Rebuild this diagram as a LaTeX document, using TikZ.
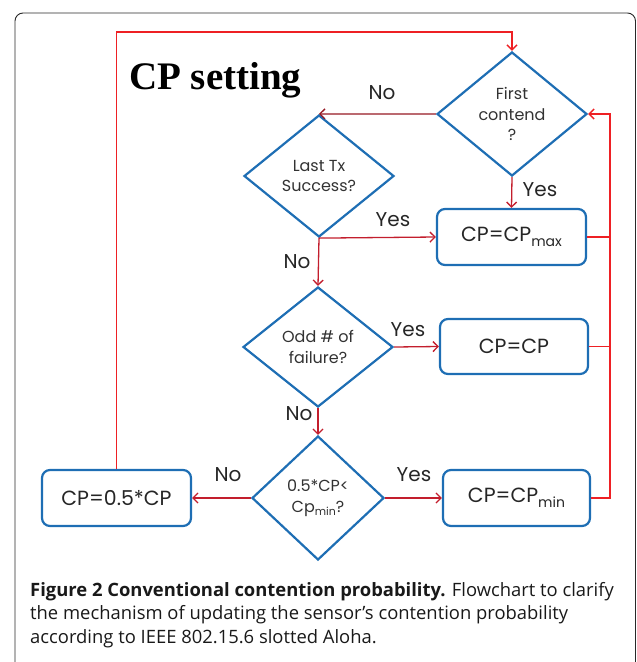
\documentclass[tikz,border=0pt]{standalone}
\usepackage{fontspec}
\setmainfont{Poppins}
\newfontfamily\titlefont{Liberation Serif}
\newfontfamily\capfont{Open Sans}
\usetikzlibrary{shapes.geometric,arrows.meta}

\definecolor{boxblue}{RGB}{30,110,180}
\definecolor{flowred}{RGB}{195,30,45}
\definecolor{darkred}{RGB}{150,25,35}
\definecolor{loopred}{RGB}{238,32,36}
\definecolor{txtgray}{RGB}{50,50,50}
\definecolor{framegray}{RGB}{40,40,40}

\newcommand{\lowsub}[1]{\raisebox{-0.45ex}{\fontsize{14}{14}\selectfont #1}}
\newcommand{\smallsub}[1]{\raisebox{-0.4ex}{\fontsize{11}{11}\selectfont #1}}

\begin{document}
\begin{tikzpicture}[x=1pt,y=-1pt,
  decision/.style={diamond, draw=boxblue, line width=2.2pt, inner sep=0pt,
    align=center, text=txtgray, font=\fontsize{16}{20.5}\selectfont},
  action/.style={rectangle, rounded corners=8pt, draw=boxblue, line width=2.2pt,
    inner sep=0pt, text=black!85, font=\fontsize{20.5}{22}\selectfont},
  flow/.style={draw=flowred, line width=1.3pt, -{Straight Barb[length=5pt,width=10pt]}},
  loop/.style={draw=loopred, line width=1.5pt},
  lbl/.style={text=black!85, font=\fontsize{20}{22}\selectfont, inner sep=0pt},
  capline/.style={anchor=base west, inner sep=0pt, text=black!90,
    font=\capfont\fontsize{18.4}{22}\selectfont}]

\useasboundingbox (0,0) rectangle (637,662);

% outer frame
\draw[framegray, line width=0.9pt, rounded corners=8pt]
  (15,662) -- (15,13) -- (635.5,13) -- (635.5,662);

% title
\node[anchor=base west, inner sep=0pt, font=\titlefont\bfseries\fontsize{39}{39}\selectfont]
  (title) at (129,89) {CP setting};

% decisions
\node[decision, minimum width=150pt, minimum height=124pt] (first) at (512,114)
  {First\\contend\\?};
\node[decision, minimum width=150pt, minimum height=122pt] (last) at (319,176)
  {Last Tx\\Success?};
\node[decision, minimum width=150pt, minimum height=120pt] (odd) at (318,347)
  {Odd \# of\\failure?};
\node[decision, minimum width=132pt, minimum height=124pt] (half) at (318,498)
  {0.5*CP<\\Cp\smallsub{min}?};

% actions
\node[action, minimum width=149pt, minimum height=56pt] (cpmax) at (511.5,237)
  {CP=CP\lowsub{max}};
\node[action, minimum width=148pt, minimum height=55pt] (cpsame) at (514,346.5)
  {CP=CP};
\node[action, minimum width=149pt, minimum height=56pt] (cphalf) at (116.5,498)
  {CP=0.5*CP};
\node[action, minimum width=147pt, minimum height=56pt] (cpmin) at (516.5,498)
  {CP=CP\lowsub{min}};

% decision outcomes
\draw[flow, draw=darkred] (first.west) -- (last.north);
\draw[flow] (first.south) -- (cpmax.north);
\draw[flow] (last.south) -- (cpmax.west);
\draw[flow] (last.south) -- (odd.north);
\draw[flow] (odd.east) -- (cpsame.west);
\draw[flow] (odd.south) -- (half.north);
\draw[flow] (half.west) -- (cphalf.east);
\draw[flow] (half.east) -- (cpmin.west);

% feedback to the first check
\coordinate (rail) at (610,114);
\draw[loop] (cpmax.east) -- (cpmax.east -| rail);
\draw[loop] (cpsame.east) -- (cpsame.east -| rail);
\draw[loop, -{Straight Barb[length=5pt,width=10pt]}]
  (cpmin.east) -- (cpmin.east -| rail) -- (rail) -- (first.east);
\coordinate (topleft) at (116.5,32);
\draw[loop, -{Straight Barb[length=5pt,width=10pt]}]
  (cphalf.north) -- (topleft) -- (topleft -| first.north) -- (first.north);

% labels
\node[lbl] (l1) at (382,93) {No};
\node[lbl] (l2) at (540,190) {Yes};
\node[lbl] (l3) at (393,220) {Yes};
\node[lbl] (l4) at (297,262) {No};
\node[lbl] (l5) at (408,330) {Yes};
\node[lbl] (l6) at (299,414) {No};
\node[lbl] (l7) at (228,475) {No};
\node[lbl] (l8) at (414,475) {Yes};

% caption
\node[capline] (cap1) at (30,596)
  {{\bfseries Figure 2 Conventional contention probability.} Flowchart to clarify};
\node[capline] (cap2) at (30,619)
  {the mechanism of updating the sensor’s contention probability};
\node[capline] (cap3) at (30,643)
  {according to IEEE 802.15.6 slotted Aloha.};
\end{tikzpicture}
\end{document}
